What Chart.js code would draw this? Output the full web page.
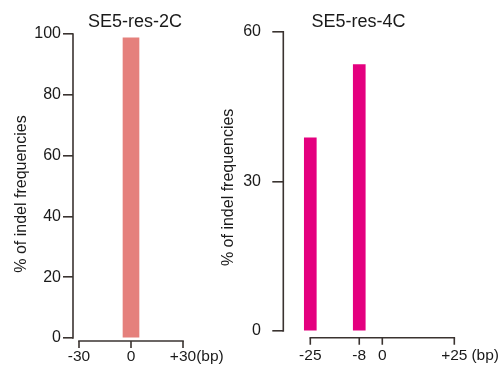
<!DOCTYPE html>
<html>
<head>
<meta charset="utf-8">
<script src="https://cdn.jsdelivr.net/npm/chart.js@4/dist/chart.umd.min.js"></script>
<style>
  html, body { margin: 0; padding: 0; background: #ffffff; width: 499px; height: 372px; overflow: hidden; }
  .layer { position: absolute; left: 0; top: 0; width: 499px; height: 372px; }
</style>
</head>
<body>
<div class="layer"><canvas id="left" width="499" height="372"></canvas></div>
<div class="layer"><canvas id="right" width="499" height="372"></canvas></div>
<script>
// ---------- data ----------
const leftTitle = 'SE5-res-2C';
const leftPositions = [0];
const leftValues = [98.7];
const leftXTicks = [-30, 0, 30];
const leftYTicks = [0, 20, 40, 60, 80, 100];

const rightTitle = 'SE5-res-4C';
const rightPositions = [-25, -8];
const rightValues = [38.7, 53.4];
const rightXTicks = [-25, -8, 0, 25];
const rightYTicks = [0, 30, 60];

const yAxisTitle = '% of indel frequencies';
const unitLabel = '(bp)';

// ---------- style ----------
const FONT = "'Liberation Sans', Arial, Helvetica, sans-serif";
const TEXT = '#1a1a1a';
const AXIS = '#3a3330';

const axesPlugin = {
  id: 'customAxes',
  afterDraw(chart, args, o) {
    const {ctx} = chart;
    const xs = chart.scales.x, ys = chart.scales.y;
    const left = chart.chartArea.left;
    const y0 = ys.getPixelForValue(0);
    const yTop = ys.getPixelForValue(o.yTicks[o.yTicks.length - 1]);
    ctx.save();
    ctx.strokeStyle = AXIS;
    ctx.lineWidth = o.lineWidth;
    ctx.lineCap = 'butt';
    // y axis line
    ctx.beginPath();
    ctx.moveTo(left, yTop - o.lineWidth / 2);
    ctx.lineTo(left, y0 + o.lineWidth / 2);
    ctx.stroke();
    // x axis line (detached)
    const ya = y0 + o.xGap;
    const first = xs.getPixelForValue(o.xTicks[0]);
    const last = xs.getPixelForValue(o.xTicks[o.xTicks.length - 1]);
    ctx.beginPath();
    ctx.moveTo(first - o.lineWidth / 2, ya);
    ctx.lineTo(last + o.lineWidth / 2, ya);
    ctx.stroke();
    ctx.beginPath();
    o.xTicks.forEach(v => {
      const px = xs.getPixelForValue(v);
      ctx.moveTo(px, ya);
      ctx.lineTo(px, ya + o.tickLen);
    });
    ctx.stroke();
    // unit label after the last tick label
    ctx.font = o.fontSize + 'px ' + FONT;
    ctx.fillStyle = TEXT;
    ctx.textBaseline = 'middle';
    ctx.textAlign = 'left';
    const lastLabel = '+' + o.xTicks[o.xTicks.length - 1];
    const w = ctx.measureText(lastLabel).width;
    const ly = xs.top + o.labelPad + o.fontSize * 1.2 / 2;
    ctx.fillText(unitLabel, last + w / 2 + o.unitGap, ly);
    // y axis title (rotated)
    ctx.font = '16px ' + FONT;
    ctx.textAlign = 'center';
    const cy = (yTop + y0) / 2 + o.yTitleShift;
    ctx.translate(ys.left + o.yTitleX, cy);
    ctx.rotate(-Math.PI / 2);
    ctx.fillText(yAxisTitle, 0, 0);
    ctx.restore();
  }
};

function makeChart(id, c) {
  return new Chart(document.getElementById(id), {
    type: 'bar',
    data: {
      datasets: [{
        data: c.positions.map((p, i) => ({x: p, y: c.values[i]})),
        backgroundColor: c.color,
        borderWidth: 0,
        barThickness: c.barThickness
      }]
    },
    options: {
      responsive: false,
      animation: false,
      devicePixelRatio: 1,
      layout: { padding: { left: c.padLeft, right: c.padRight, top: 0, bottom: 0 } },
      plugins: {
        legend: { display: false },
        tooltip: { enabled: false },
        title: {
          display: true,
          text: c.title,
          color: TEXT,
          font: { family: FONT, size: 18, weight: 'normal', lineHeight: 1.1 },
          padding: { top: c.titleTop, bottom: c.titleBottom }
        },
        customAxes: {
          yTicks: c.yTicks, xTicks: c.xTicks, lineWidth: 1.6,
          xGap: c.xGap, tickLen: c.xTickLen, fontSize: 15.5,
          labelPad: c.xLabelPad, unitGap: c.unitGap,
          yTitleX: c.yTitleX, yTitleShift: c.yTitleShift
        }
      },
      scales: {
        x: {
          type: 'linear',
          offset: false,
          min: c.xMin, max: c.xMax,
          afterBuildTicks: s => { s.ticks = c.xTicks.map(v => ({value: v})); },
          afterFit: s => { s.height = c.xHeight; },
          grid: { display: false, drawTicks: false },
          border: { display: false },
          ticks: {
            autoSkip: false, maxRotation: 0, minRotation: 0,
            padding: c.xLabelPad,
            color: TEXT,
            font: { family: FONT, size: 15.5 },
            callback: v => (v > 0 ? '+' + v : '' + v)
          }
        },
        y: {
          min: 0, max: c.yMax,
          afterBuildTicks: s => { s.ticks = c.yTicks.map(v => ({value: v})); },
          afterFit: s => { s.width = c.yWidth; },
          grid: { display: true, drawOnChartArea: false, drawTicks: true, tickLength: c.yTickLen, color: AXIS, lineWidth: 1.6 },
          border: { display: false },
          ticks: {
            padding: c.yLabelPad,
            color: TEXT,
            font: { family: FONT, size: 16 }
          },
          title: { display: false }
        }
      }
    },
    plugins: [axesPlugin]
  });
}

makeChart('left', {
  title: leftTitle, positions: leftPositions, values: leftValues,
  xTicks: leftXTicks, yTicks: leftYTicks,
  color: '#e5807c', barThickness: 16,
  padLeft: 0, padRight: 229,
  titleTop: 11.8, titleBottom: 2.4,
  xMin: -33.4615, xMax: 80.19, xHeight: 34, xLabelPad: 9.7,
  yMax: 100, yWidth: 73, yTickLen: 10, yLabelPad: 2,
  yTitleX: 21.5, yTitleShift: 8,
  xGap: 3, xTickLen: 7, unitGap: 0
});

makeChart('right', {
  title: rightTitle, positions: rightPositions, values: rightValues,
  xTicks: rightXTicks, yTicks: rightYTicks,
  color: '#e4007f', barThickness: 12,
  padLeft: 218, padRight: 0,
  titleTop: 11.8, titleBottom: 0.1,
  xMin: -34.375, xMax: 40.52, xHeight: 41, xLabelPad: 15.7,
  yMax: 60, yWidth: 65.3, yTickLen: 11, yLabelPad: 11.3,
  yTitleX: 11, yTitleShift: 6,
  xGap: 6.7, xTickLen: 7, unitGap: 4
});
</script>
</body>
</html>
